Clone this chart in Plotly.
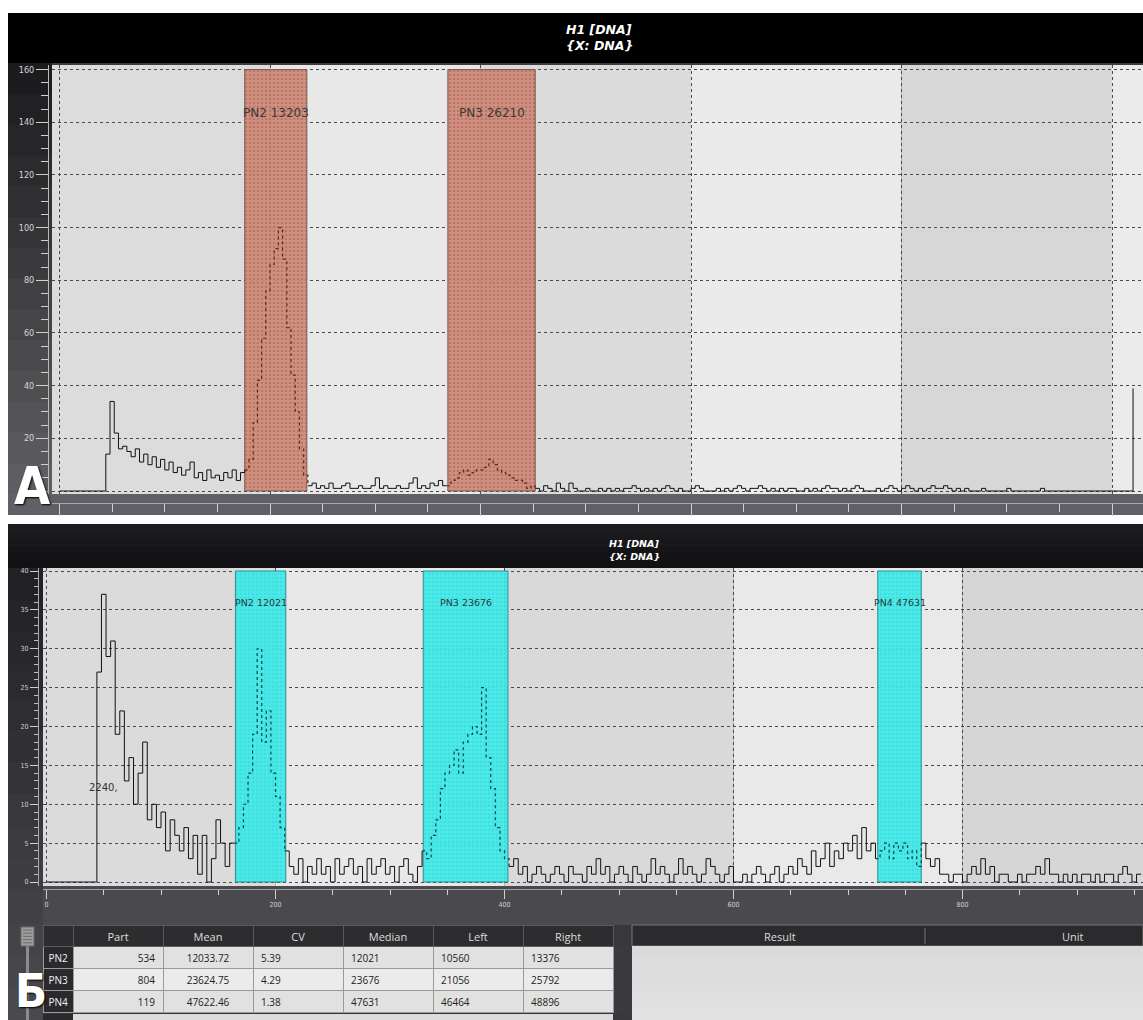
import numpy as np
import plotly.graph_objects as go

W, H = 1143, 1020

# ------------------------------------------------------------------ data
BIN = 4          # channels per histogram bin
CH_SCALE = 64    # DNA units per channel

# Panel A histogram (counts per 4-channel bin, channel 0..1020)
hist_a = [
    0, 0, 0, 0, 0, 0, 0, 0, 0, 0, 0, 14, 34, 22, 16, 17,
    15, 13, 16, 11, 14, 10, 13, 9, 12, 8, 11, 7, 9, 6, 8, 11,
    5, 7, 4, 8, 5, 6, 4, 7, 5, 8, 4, 7, 8, 12, 26, 42,
    58, 76, 86, 92, 100, 88, 62, 44, 30, 16, 6, 2, 3, 1, 2, 1,
    3, 1, 1, 2, 3, 1, 1, 2, 1, 1, 2, 5, 1, 2, 1, 1,
    2, 1, 1, 3, 5, 1, 2, 1, 3, 2, 4, 2, 2, 4, 5, 7,
    8, 6, 7, 8, 8, 9, 12, 10, 8, 7, 6, 5, 4, 4, 3, 1,
    2, 1, 0, 2, 1, 0, 3, 1, 0, 3, 1, 0, 0, 1, 0, 0,
    1, 0, 1, 0, 1, 0, 1, 1, 2, 1, 0, 1, 0, 1, 0, 1,
    2, 1, 0, 1, 0, 0, 1, 2, 1, 0, 0, 0, 1, 0, 1, 0,
    1, 2, 1, 0, 1, 1, 2, 1, 0, 1, 0, 1, 0, 1, 1, 0,
    0, 1, 0, 1, 0, 1, 2, 1, 1, 0, 1, 0, 1, 2, 1, 0,
    0, 0, 1, 0, 1, 2, 1, 0, 1, 2, 1, 0, 1, 0, 1, 2,
    1, 1, 2, 1, 0, 1, 0, 1, 0, 0, 0, 1, 0, 0, 0, 0,
    0, 1, 0, 0, 0, 0, 0, 0, 0, 1, 0, 0, 0, 0, 0, 0,
    0, 0, 0, 0, 0, 0, 0, 0, 0, 0, 0, 0, 0, 0, 0, 39,
]

# Panel B histogram (counts per 4-channel bin, channel 0..956)
hist_b = [
    0, 0, 0, 0, 0, 0, 0, 0, 0, 0, 0, 27, 37, 29, 31, 19,
    22, 13, 16, 10, 14, 18, 8, 10, 7, 9, 4, 8, 6, 4, 7, 3,
    6, 1, 6, 0, 3, 8, 5, 2, 5, 5, 7, 10, 14, 19, 30, 18,
    22, 14, 11, 7, 4, 2, 1, 3, 0, 2, 1, 3, 1, 2, 0, 3,
    1, 2, 3, 1, 2, 0, 3, 1, 2, 3, 1, 2, 0, 2, 3, 1,
    0, 2, 4, 3, 6, 8, 12, 14, 15, 17, 14, 18, 19, 20, 19, 25,
    16, 12, 7, 4, 3, 2, 3, 1, 2, 0, 1, 2, 1, 0, 1, 2,
    1, 0, 2, 1, 1, 0, 2, 1, 3, 1, 2, 0, 1, 2, 1, 0,
    2, 1, 0, 1, 3, 1, 2, 1, 0, 1, 3, 1, 2, 1, 0, 1,
    3, 2, 1, 0, 1, 2, 0, 0, 1, 0, 1, 2, 1, 0, 1, 2,
    0, 1, 2, 1, 3, 2, 1, 4, 2, 3, 5, 2, 4, 3, 5, 4,
    6, 3, 7, 4, 5, 3, 4, 5, 3, 5, 4, 5, 3, 4, 2, 5,
    3, 2, 3, 1, 1, 0, 1, 1, 0, 1, 2, 1, 3, 1, 2, 0,
    1, 1, 0, 0, 1, 0, 1, 1, 2, 1, 3, 1, 1, 0, 1, 0,
    1, 0, 1, 1, 0, 1, 0, 1, 1, 0, 1, 2, 1, 0, 1, 1,
]

# Panel A gates (channels) and their medians
gate_a_names = ["PN2", "PN3"]
gate_a_median = [13203, 26210]
gate_a_left = [176, 369]
gate_a_right = [235, 452]
gate_a_top = 160

# Panel A y tick labels (the 0 label is hidden under the panel letter)
ya_tickvals = [0, 20, 40, 60, 80, 100, 120, 140, 160]
ya_ticktext = ["", "20", "40", "60", "80", "100", "120", "140", "160"]

# Panel B statistics table
table_cols = ["Part", "Mean", "CV", "Median", "Left", "Right"]
table_rows = ["PN2", "PN3", "PN4"]
table_part = [534, 804, 119]
table_mean = ["12033.72", "23624.75", "47622.46"]
table_cv = ["5.39", "4.29", "1.38"]
table_median = [12021, 23676, 47631]
table_left = [10560, 21056, 46464]
table_right = [13376, 25792, 48896]
gate_b_top = 40

debris_text = "2240,"
debris_x, debris_y = 50, 12.2

result_cols = ["Result", "Unit"]

# ------------------------------------------------------------------ helpers
def fx(x):
    return x / W


def fy(y):
    return 1 - y / H


def rect(x0, y0, x1, y1, color, line=None):
    d = dict(type="rect", xref="paper", yref="paper", layer="below",
             x0=fx(x0), x1=fx(x1), y0=fy(y1), y1=fy(y0),
             fillcolor=color, line=dict(width=0))
    if line:
        d["line"] = dict(color=line, width=1)
    return d


def hexrgb(h):
    h = h.lstrip("#")
    return tuple(int(h[i:i + 2], 16) for i in (0, 2, 4))


def vgrad(x0, x1, y0, y1, c0, c1, n=14):
    a, b = hexrgb(c0), hexrgb(c1)
    out = []
    for i in range(n):
        t = i / (n - 1)
        c = "rgb(%d,%d,%d)" % tuple(round(a[k] + (b[k] - a[k]) * t) for k in range(3))
        ya = y0 + (y1 - y0) * i / n
        yb = y0 + (y1 - y0) * (i + 1) / n + 0.6
        out.append(rect(x0, ya, x1, yb, c))
    return out


def split(chan, vals, lefts, rights):
    centers = chan + BIN / 2
    inside = np.zeros(len(chan), bool)
    for l, r in zip(lefts, rights):
        inside |= (centers >= l) & (centers < r)
    prev_in = np.concatenate([[False], inside[:-1]])
    out_mask = (~inside) | (inside & ~prev_in)
    in_mask = inside | prev_in
    y_out = [v if m else None for v, m in zip(vals, out_mask)]
    y_in = [v if m else None for v, m in zip(vals, in_mask)]
    return y_out, y_in


chan_a = np.arange(len(hist_a)) * BIN
chan_b = np.arange(len(hist_b)) * BIN

gate_b_left = [v / CH_SCALE for v in table_left]
gate_b_right = [v / CH_SCALE for v in table_right]

# axis geometry
xa_range = [(52 - 59.5) / 1.0525, (1143 - 59.5) / 1.0525]
ya_range = [(491 - 494) / 2.634, (491 - 65) / 2.634]
xb_range = [(43 - 46.5) / 1.145, (1143 - 46.5) / 1.145]
yb_range = [(882 - 886) / 7.775, (882 - 568) / 7.775]

fig = go.Figure()

# ------------------------------------------------------------------ gates
for l, r in zip(gate_a_left, gate_a_right):
    fig.add_trace(go.Scatter(
        x=[l, l, r, r, l], y=[0, gate_a_top, gate_a_top, 0, 0],
        xaxis="x", yaxis="y", mode="lines", fill="toself",
        fillcolor="rgba(208,138,120,0.92)",
        fillpattern=dict(shape=".", bgcolor="rgba(208,138,120,0.92)",
                         fgcolor="#a25d4d", size=4, solidity=0.35),
        line=dict(color="#7c5a50", width=1), hoverinfo="skip"))

for l, r in zip(gate_b_left, gate_b_right):
    fig.add_trace(go.Scatter(
        x=[l, l, r, r, l], y=[0, gate_b_top, gate_b_top, 0, 0],
        xaxis="x2", yaxis="y2", mode="lines", fill="toself",
        fillcolor="rgba(66,234,234,0.95)",
        fillpattern=dict(shape=".", bgcolor="rgba(66,234,234,0.95)",
                         fgcolor="#36cdcd", size=4, solidity=0.3),
        line=dict(color="#2a9090", width=1), hoverinfo="skip"))

# ------------------------------------------------------------------ histograms
ya_out, ya_in = split(chan_a, hist_a, gate_a_left, gate_a_right)
fig.add_trace(go.Scatter(x=list(chan_a), y=ya_out, xaxis="x", yaxis="y",
                         mode="lines", line=dict(color="#111111", width=1, shape="hv"),
                         hoverinfo="skip"))
fig.add_trace(go.Scatter(x=list(chan_a), y=ya_in, xaxis="x", yaxis="y",
                         mode="lines", line=dict(color="#6a2418", width=1.2, shape="hv", dash="dot"),
                         hoverinfo="skip"))

yb_out, yb_in = split(chan_b, hist_b, gate_b_left, gate_b_right)
fig.add_trace(go.Scatter(x=list(chan_b), y=yb_out, xaxis="x2", yaxis="y2",
                         mode="lines", line=dict(color="#111111", width=1, shape="hv"),
                         hoverinfo="skip"))
fig.add_trace(go.Scatter(x=list(chan_b), y=yb_in, xaxis="x2", yaxis="y2",
                         mode="lines", line=dict(color="#0b4a4a", width=1.2, shape="hv", dash="dot"),
                         hoverinfo="skip"))

# ------------------------------------------------------------------ table
fills = [["#2a2a2c"] * 3] + [["#e1e1e1", "#ebebeb", "#e1e1e1"]] * 6
fcols = [["#f2f2f2"] * 3] + [["#222222"] * 3] * 6
fig.add_trace(go.Table(
    domain=dict(x=[fx(43), fx(613)], y=[fy(1014), fy(925)]),
    columnwidth=[30, 90, 90, 90, 90, 90, 90],
    header=dict(values=[""] + table_cols, fill_color="#2d2d2f",
                font=dict(color="#dedede", size=11, family="Open Sans"),
                height=21, align="center", line=dict(color="#5a5a5a", width=1)),
    cells=dict(values=[table_rows, table_part, table_mean, table_cv,
                       table_median, table_left, table_right],
               fill_color=fills, font=dict(color=fcols, size=10, family="Open Sans"),
               height=22, align=["center", "right", "center", "left", "left", "left", "left"],
               line=dict(color="#9a9a9a", width=1))))

# ------------------------------------------------------------------ background shapes
shapes = []
# panel A
shapes.append(rect(8, 13, 1143, 515, "#3c3c40"))
shapes.append(rect(8, 13, 1143, 63, "#000000"))
shapes += vgrad(8, 52, 63, 494, "#1c1c1e", "#5e5e62")
shapes.append(rect(8, 494, 1143, 515, "#606066"))
# panel B
shapes.append(rect(8, 524, 1143, 1020, "#3a3a3e"))
shapes += vgrad(8, 1143, 524, 568, "#1c1c20", "#111113", n=6)
shapes += vgrad(8, 43, 568, 1020, "#222226", "#4a4a4e")
shapes.append(rect(43, 886, 1143, 925, "#4a4a4e"))
shapes.append(rect(43, 925, 1143, 1020, "#38383c"))
shapes.append(rect(43, 1014, 73, 1020, "#2a2a2c"))
shapes.append(rect(73, 1014, 613, 1020, "#dcdcdc"))
# slider
shapes.append(rect(26, 946, 29, 1020, "#8c8c90"))
shapes.append(rect(21, 927, 34, 946, "#9c9c9c", line="#6a6a6a"))
for k in range(5):
    yy = 930 + k * 3.2
    shapes.append(dict(type="line", xref="paper", yref="paper", layer="below",
                       x0=fx(23), x1=fx(32), y0=fy(yy), y1=fy(yy),
                       line=dict(color="#6e6e6e", width=1)))
# result / unit panel
shapes.append(rect(632, 925, 1143, 946, "#2b2b2d", line="#777777"))
shapes += vgrad(632, 1143, 946, 1020, "#dadada", "#e2e2e2", n=6)
shapes.append(dict(type="line", xref="paper", yref="paper", layer="below",
                   x0=fx(925), x1=fx(925), y0=fy(928), y1=fy(944),
                   line=dict(color="#777777", width=1)))

# plot-area shading bands between grid lines
bands_a = [(xa_range[0], 200, "#dcdcdc"), (200, 400, "#e8e8e8"), (400, 600, "#dbdbdb"),
           (600, 800, "#eaeaea"), (800, 1000, "#d7d7d7"), (1000, xa_range[1], "#ebebeb")]
for x0, x1, c in bands_a:
    shapes.append(dict(type="rect", xref="x", yref="y", layer="below",
                       x0=x0, x1=x1, y0=ya_range[0], y1=ya_range[1],
                       fillcolor=c, line=dict(width=0)))
bands_b = [(xb_range[0], 200, "#dbdbdb"), (200, 400, "#e8e8e8"), (400, 600, "#d9d9d9"),
           (600, 800, "#e9e9e9"), (800, xb_range[1], "#d6d6d6")]
for x0, x1, c in bands_b:
    shapes.append(dict(type="rect", xref="x2", yref="y2", layer="below",
                       x0=x0, x1=x1, y0=yb_range[0], y1=yb_range[1],
                       fillcolor=c, line=dict(width=0)))

# ------------------------------------------------------------------ annotations
ann = []
C = dict(xanchor="center", yanchor="middle", showarrow=False)
title_font_a = dict(family="DejaVu Sans", size=12.5, color="#ffffff", weight="bold", style="italic")
title_font_b = dict(family="DejaVu Sans", size=9.5, color="#ffffff", weight="bold", style="italic")
for txt, y in (("H1 [DNA]", 29), ("{X: DNA}", 46)):
    ann.append(dict(text=txt, x=fx(599), y=fy(y), xref="paper", yref="paper",
                    font=title_font_a, **C))
for txt, y in (("H1 [DNA]", 543), ("{X: DNA}", 556)):
    ann.append(dict(text=txt, x=fx(634), y=fy(y), xref="paper", yref="paper",
                    font=title_font_b, **C))

for name, med, l, r in zip(gate_a_names, gate_a_median, gate_a_left, gate_a_right):
    ann.append(dict(text=f"{name} {med}", x=(l + r) / 2, y=143.5, xref="x", yref="y",
                    font=dict(family="DejaVu Sans", size=12, color="#3a3a3a"), **C))
for name, med, l, r in zip(table_rows, table_median, gate_b_left, gate_b_right):
    ann.append(dict(text=f"{name} {med}", x=(l + r) / 2, y=35.9, xref="x2", yref="y2",
                    font=dict(family="DejaVu Sans", size=9.5, color="#2a3a3a"), **C))
ann.append(dict(text=debris_text, x=debris_x, y=debris_y, xref="x2", yref="y2",
                font=dict(family="DejaVu Sans", size=10, color="#333333"), **C))

for txt, x in zip(result_cols, (780, 1073)):
    ann.append(dict(text=txt, x=fx(x), y=fy(936), xref="paper", yref="paper",
                    font=dict(family="Open Sans", size=11, color="#dcdcdc"), **C))

letter_font = dict(family="Liberation Sans Narrow, DejaVu Sans Condensed, Liberation Sans",
                   size=52, color="#ffffff", weight="bold", shadow="1px 1px 2px #000")
ann.append(dict(text="А", x=fx(32), y=fy(486), xref="paper", yref="paper",
                font=letter_font, **C))
ann.append(dict(text="Б", x=fx(31), y=fy(990), xref="paper", yref="paper",
                font=dict(letter_font, size=47), **C))

# ------------------------------------------------------------------ layout
grid = dict(showgrid=True, gridcolor="#4a4a4a", griddash="dot", gridwidth=1, zeroline=False)
fig.update_layout(
    width=W, height=H, margin=dict(l=0, r=0, t=0, b=0),
    paper_bgcolor="#ffffff", plot_bgcolor="rgba(0,0,0,0)",
    showlegend=False, hovermode=False,
    shapes=shapes, annotations=ann,
    xaxis=dict(domain=[fx(52), 1], range=xa_range, anchor="free", position=fy(503),
               showline=True, linecolor="#a8a8a8", ticks="outside", ticklen=12,
               tickcolor="#d0d0d0", tick0=0, dtick=200, showticklabels=False,
               minor=dict(dtick=50, ticklen=8, tickcolor="#d0d0d0", ticks="outside", showgrid=False),
               **grid),
    yaxis=dict(domain=[fy(494), fy(65)], range=ya_range, anchor="free", position=fx(48),
               showline=True, linecolor="#b8b8b8", ticks="outside", ticklen=12,
               tickcolor="#cfcfcf", tickmode="array", tickvals=ya_tickvals, ticktext=ya_ticktext,
               tickfont=dict(size=9, color="#d6d6d6", family="DejaVu Sans Condensed, DejaVu Sans"),
               minor=dict(dtick=5, ticklen=7, tickcolor="#cfcfcf", ticks="outside", showgrid=False),
               **grid),
    xaxis2=dict(domain=[fx(43), 1], range=xb_range, anchor="free", position=fy(889),
                showline=True, linecolor="#a0a0a0", ticks="outside", ticklen=9,
                tickcolor="#cfcfcf", tick0=0, dtick=200,
                tickfont=dict(size=7, color="#d0d0d0", family="DejaVu Sans Condensed, DejaVu Sans"),
                minor=dict(dtick=50, ticklen=5, tickcolor="#cfcfcf", ticks="outside", showgrid=False),
                **grid),
    yaxis2=dict(domain=[fy(886), fy(568)], range=yb_range, anchor="free", position=fx(38),
                showline=True, linecolor="#a8a8a8", ticks="outside", ticklen=8,
                tickcolor="#cfcfcf", tick0=0, dtick=5,
                tickfont=dict(size=7, color="#d0d0d0", family="DejaVu Sans Condensed, DejaVu Sans"),
                minor=dict(dtick=1, ticklen=4, tickcolor="#bdbdbd", ticks="outside", showgrid=False),
                **grid),
)

fig.write_html("out.html", config={"displayModeBar": False},
               post_script="document.body.style.margin='0';document.body.style.overflow='hidden';")
